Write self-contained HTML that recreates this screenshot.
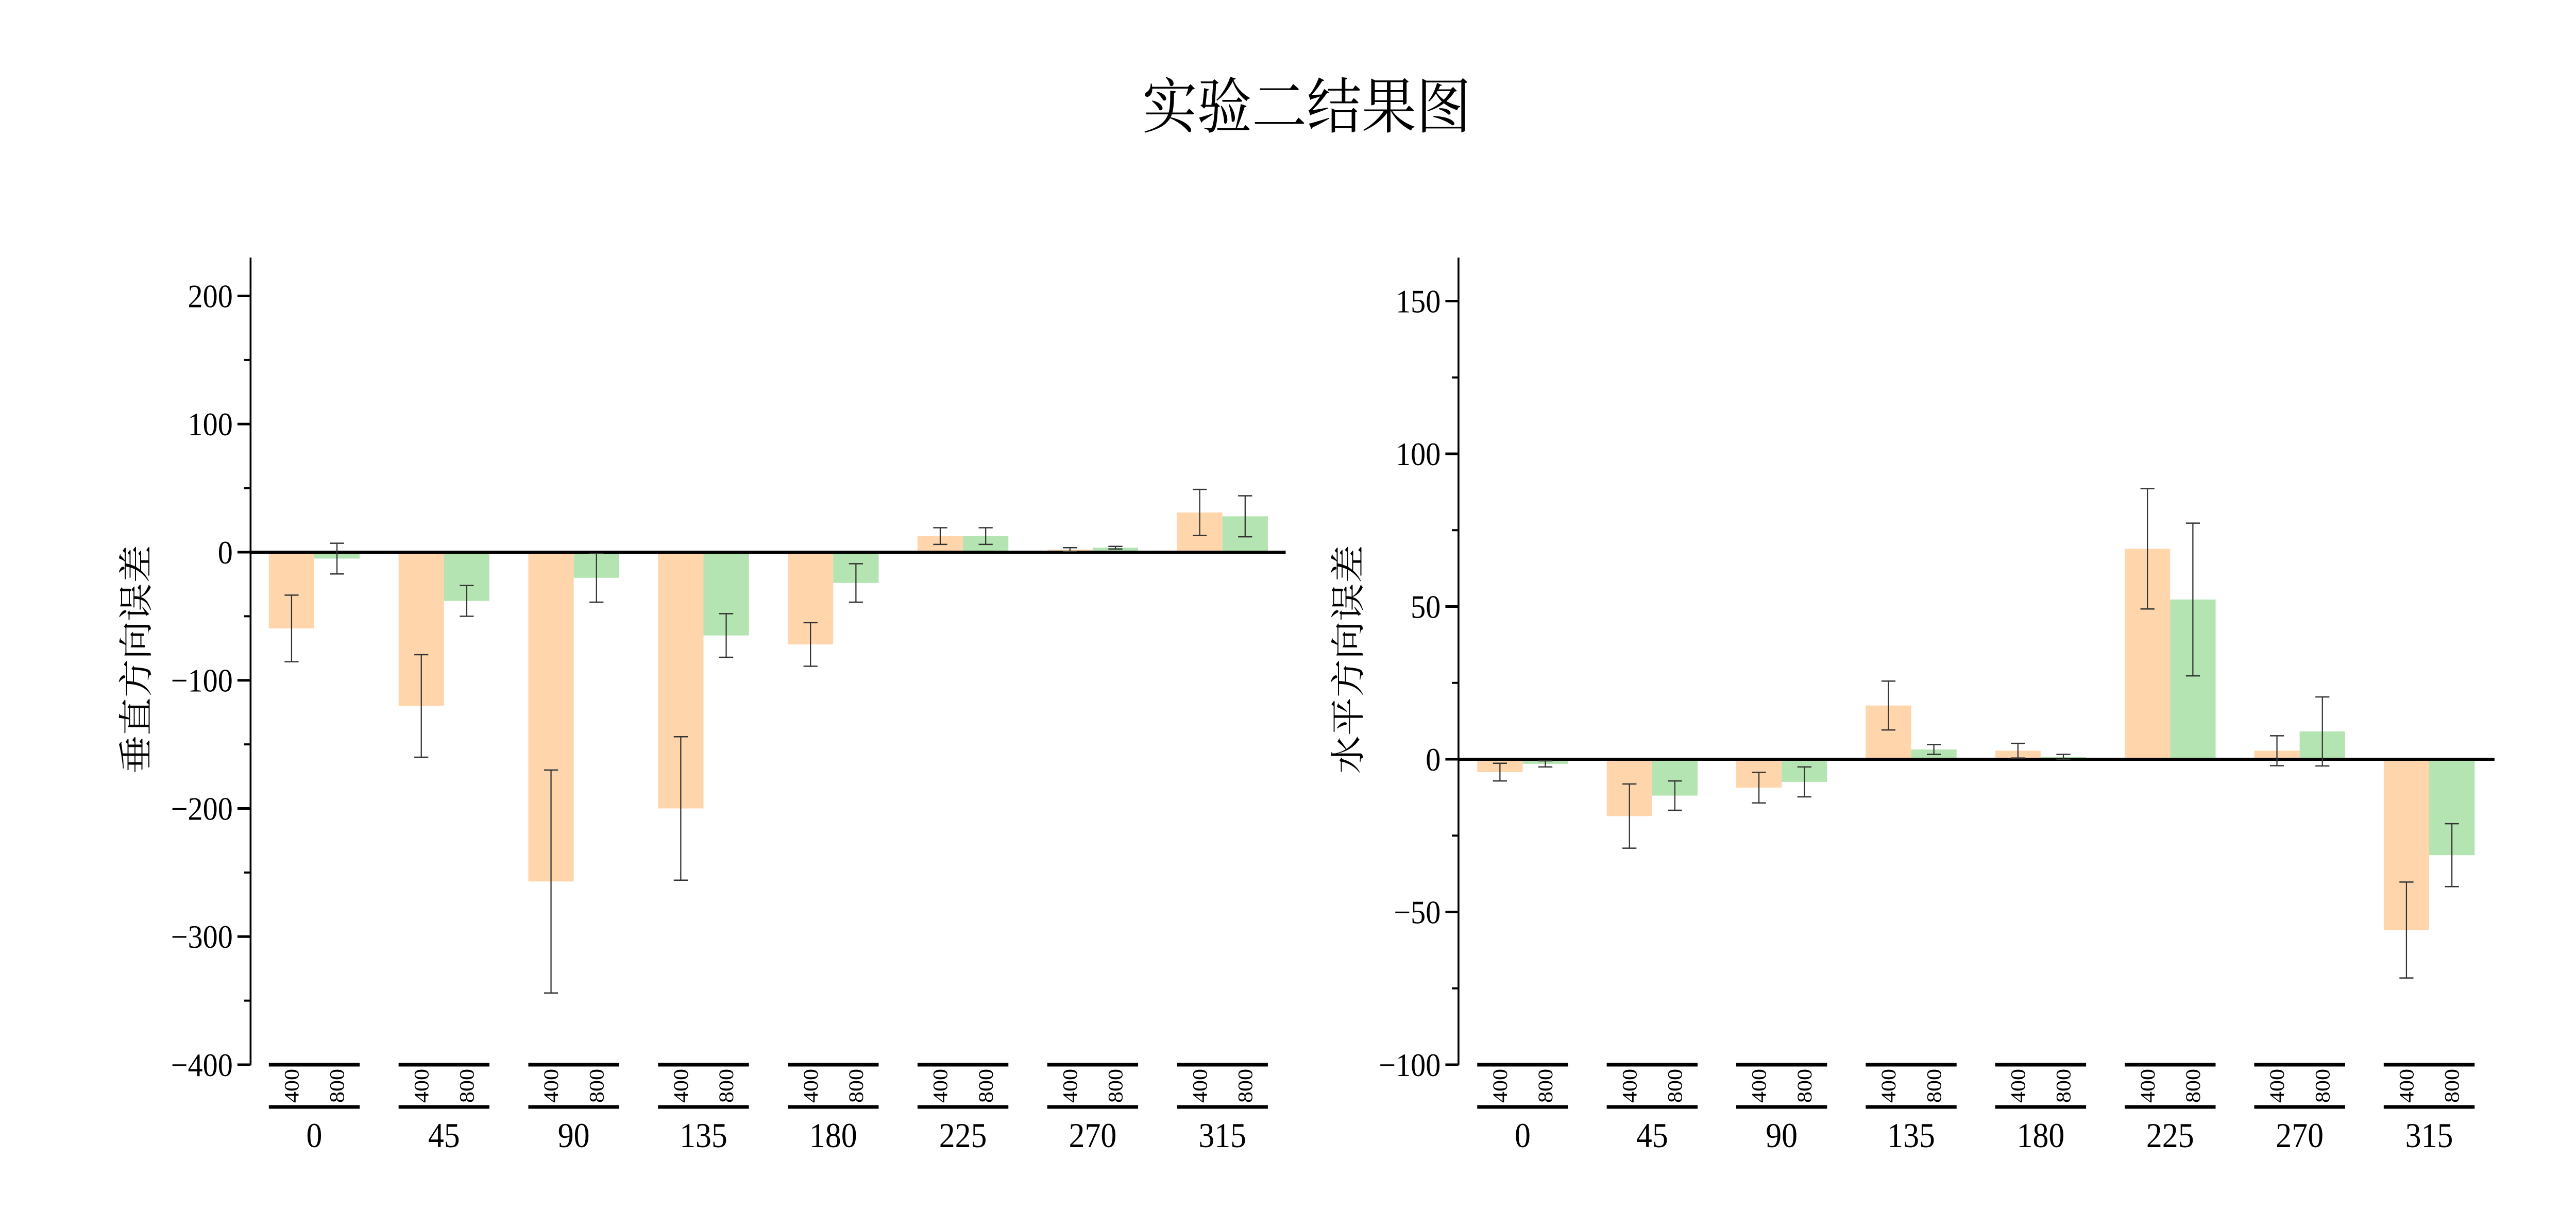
<!DOCTYPE html>
<html><head><meta charset="utf-8"><style>
html,body{margin:0;padding:0;background:#fff;width:100%;height:100%;overflow:hidden}
svg{display:block;width:100vw;height:100vh}
text{font-family:"Liberation Serif","Noto Serif CJK SC",serif;fill:#000}
</style></head><body>
<svg id="fig" viewBox="0 0 5500 2351" preserveAspectRatio="none" xmlns="http://www.w3.org/2000/svg">
<text x="2790" y="248" font-size="117" text-anchor="middle">实验二结果图</text>
<g id="left"></g>
<g id="right"></g>
</svg>
<script>
const categories = ["0","45","90","135","180","225","270","315"];
const seriesNames = ["400","800"];
const vert400 = [-59.5,-120,-257,-200,-72,12.6,2,31];
const vert400Err = [26,40,87,56,17,6.5,1.5,18];
const vert800 = [-5,-38,-20,-65,-24,12.6,3.5,28];
const vert800Err = [12,12,19,17,15,6.5,1,16];
const horiz400 = [-4.2,-18.6,-9.3,17.6,2.8,68.9,2.8,-55.9];
const horiz400Err = [2.9,10.5,5,8,2.4,19.7,4.9,15.7];
const horiz800 = [-1.5,-11.9,-7.4,3.2,0.8,52.3,9.1,-31.4];
const horiz800Err = [1,4.8,4.9,1.6,0.8,25,11.3,10.3];
const vertTicks = [-400,-300,-200,-100,0,100,200];
const horizTicks = [-100,-50,0,50,100,150];

const NS = "http://www.w3.org/2000/svg";
function mk(parent, tag, attrs, txt){
  const e = document.createElementNS(NS, tag);
  for (const k in attrs) e.setAttribute(k, attrs[k]);
  if (txt !== undefined) e.textContent = txt;
  parent.appendChild(e);
  return e;
}
function drawChart(gid, cfg){
  const g = document.getElementById(gid);
  const y = v => cfg.zeroY - (v) * cfg.pxPerUnit;
  const colors = ["#FFD6AC","#B3E4B1"];
  const series = [cfg.s1, cfg.s2], errs = [cfg.e1, cfg.e2];
  categories.forEach((c, i) => {
    const cx = cfg.firstCenter + i * cfg.groupStep;
    series.forEach((s, j) => {
      const v = s[i];
      const x0 = cx + (j === 0 ? -cfg.barW : 0);
      const r = mk(g, "rect", {x: x0, y: Math.min(y(v), y(0)), width: cfg.barW, height: Math.abs(y(v) - y(0)), fill: colors[j]});
      
      
    });
  });
  const zl = mk(g, "line", {x1: cfg.axisX, x2: cfg.zeroEnd, y1: y(0), y2: y(0), stroke: "#000", "stroke-width": 6});
  
  
  categories.forEach((c, i) => {
    const cx = cfg.firstCenter + i * cfg.groupStep;
    series.forEach((s, j) => {
      const bx = cx + (j === 0 ? -cfg.barW / 2 : cfg.barW / 2);
      const top = y(s[i] + errs[j][i]), bot = y(s[i] - errs[j][i]);
      const eg = mk(g, "g", {stroke: "#333", "stroke-width": 2.5});
      
      
      mk(eg, "line", {x1: bx, x2: bx, y1: top, y2: bot});
      mk(eg, "line", {x1: bx - 15, x2: bx + 15, y1: top, y2: top});
      mk(eg, "line", {x1: bx - 15, x2: bx + 15, y1: bot, y2: bot});
    });
  });
  const ax = mk(g, "line", {x1: cfg.axisX, x2: cfg.axisX, y1: cfg.axisTop, y2: y(cfg.ticks[0]), stroke: "#000", "stroke-width": 4});
  
  
  const step = cfg.ticks[1] - cfg.ticks[0];
  cfg.ticks.forEach((t, k) => {
    const tl = mk(g, "line", {x1: cfg.axisX - 28, x2: cfg.axisX, y1: y(t), y2: y(t), stroke: "#000", "stroke-width": 5});
    
    
    const lb = mk(g, "text", {x: cfg.axisX - 38, y: y(t) + 22, "font-size": 64, "text-anchor": "end"}, t < 0 ? "\u2212" + Math.abs(t) : String(t));
    
    
    const mv = t + step / 2;
    if (y(mv) > cfg.axisTop + 5) {
      const ml = mk(g, "line", {x1: cfg.axisX - 14, x2: cfg.axisX, y1: y(mv), y2: y(mv), stroke: "#000", "stroke-width": 4});
      
      
    }
  });
  const yt = mk(g, "text", {x: cfg.titleX, y: 1280, "font-size": 74, "text-anchor": "middle", transform: "rotate(-90 " + cfg.titleX + " 1280)", dy: 26}, cfg.title);
  
  
  const yb = y(cfg.ticks[0]);
  categories.forEach((c, i) => {
    const cx = cfg.firstCenter + i * cfg.groupStep;
    const cg = mk(g, "g", {});
    
    
    mk(cg, "line", {x1: cx - cfg.barW, x2: cx + cfg.barW, y1: yb, y2: yb, stroke: "#000", "stroke-width": 7});
    mk(cg, "line", {x1: cx - cfg.barW, x2: cx + cfg.barW, y1: yb + 82, y2: yb + 82, stroke: "#000", "stroke-width": 7});
    seriesNames.forEach((n, j) => {
      const bx = cx + (j === 0 ? -cfg.barW / 2 : cfg.barW / 2);
      const ty = yb + 41;
      mk(cg, "text", {x: bx, y: ty, "font-size": 44, "text-anchor": "middle", dy: 15, transform: "rotate(-90 " + bx + " " + ty + ")"}, n);
    });
    mk(cg, "text", {x: cx, y: yb + 160, "font-size": 68, "text-anchor": "middle"}, c);
  });
}
drawChart("left", {zeroY: 1072, pxPerUnit: 2.4875, axisX: 535, axisTop: 500, zeroEnd: 2745,
  firstCenter: 671, groupStep: 277, barW: 97, ticks: vertTicks, titleX: 290,
  s1: vert400, s2: vert800, e1: vert400Err, e2: vert800Err, title: "垂直方向误差"});
drawChart("right", {zeroY: 1474, pxPerUnit: 5.93, axisX: 3114, axisTop: 500, zeroEnd: 5326,
  firstCenter: 3251, groupStep: 276.5, barW: 97, ticks: horizTicks, titleX: 2878,
  s1: horiz400, s2: horiz800, e1: horiz400Err, e2: horiz800Err, title: "水平方向误差"});
</script>
</body></html>
